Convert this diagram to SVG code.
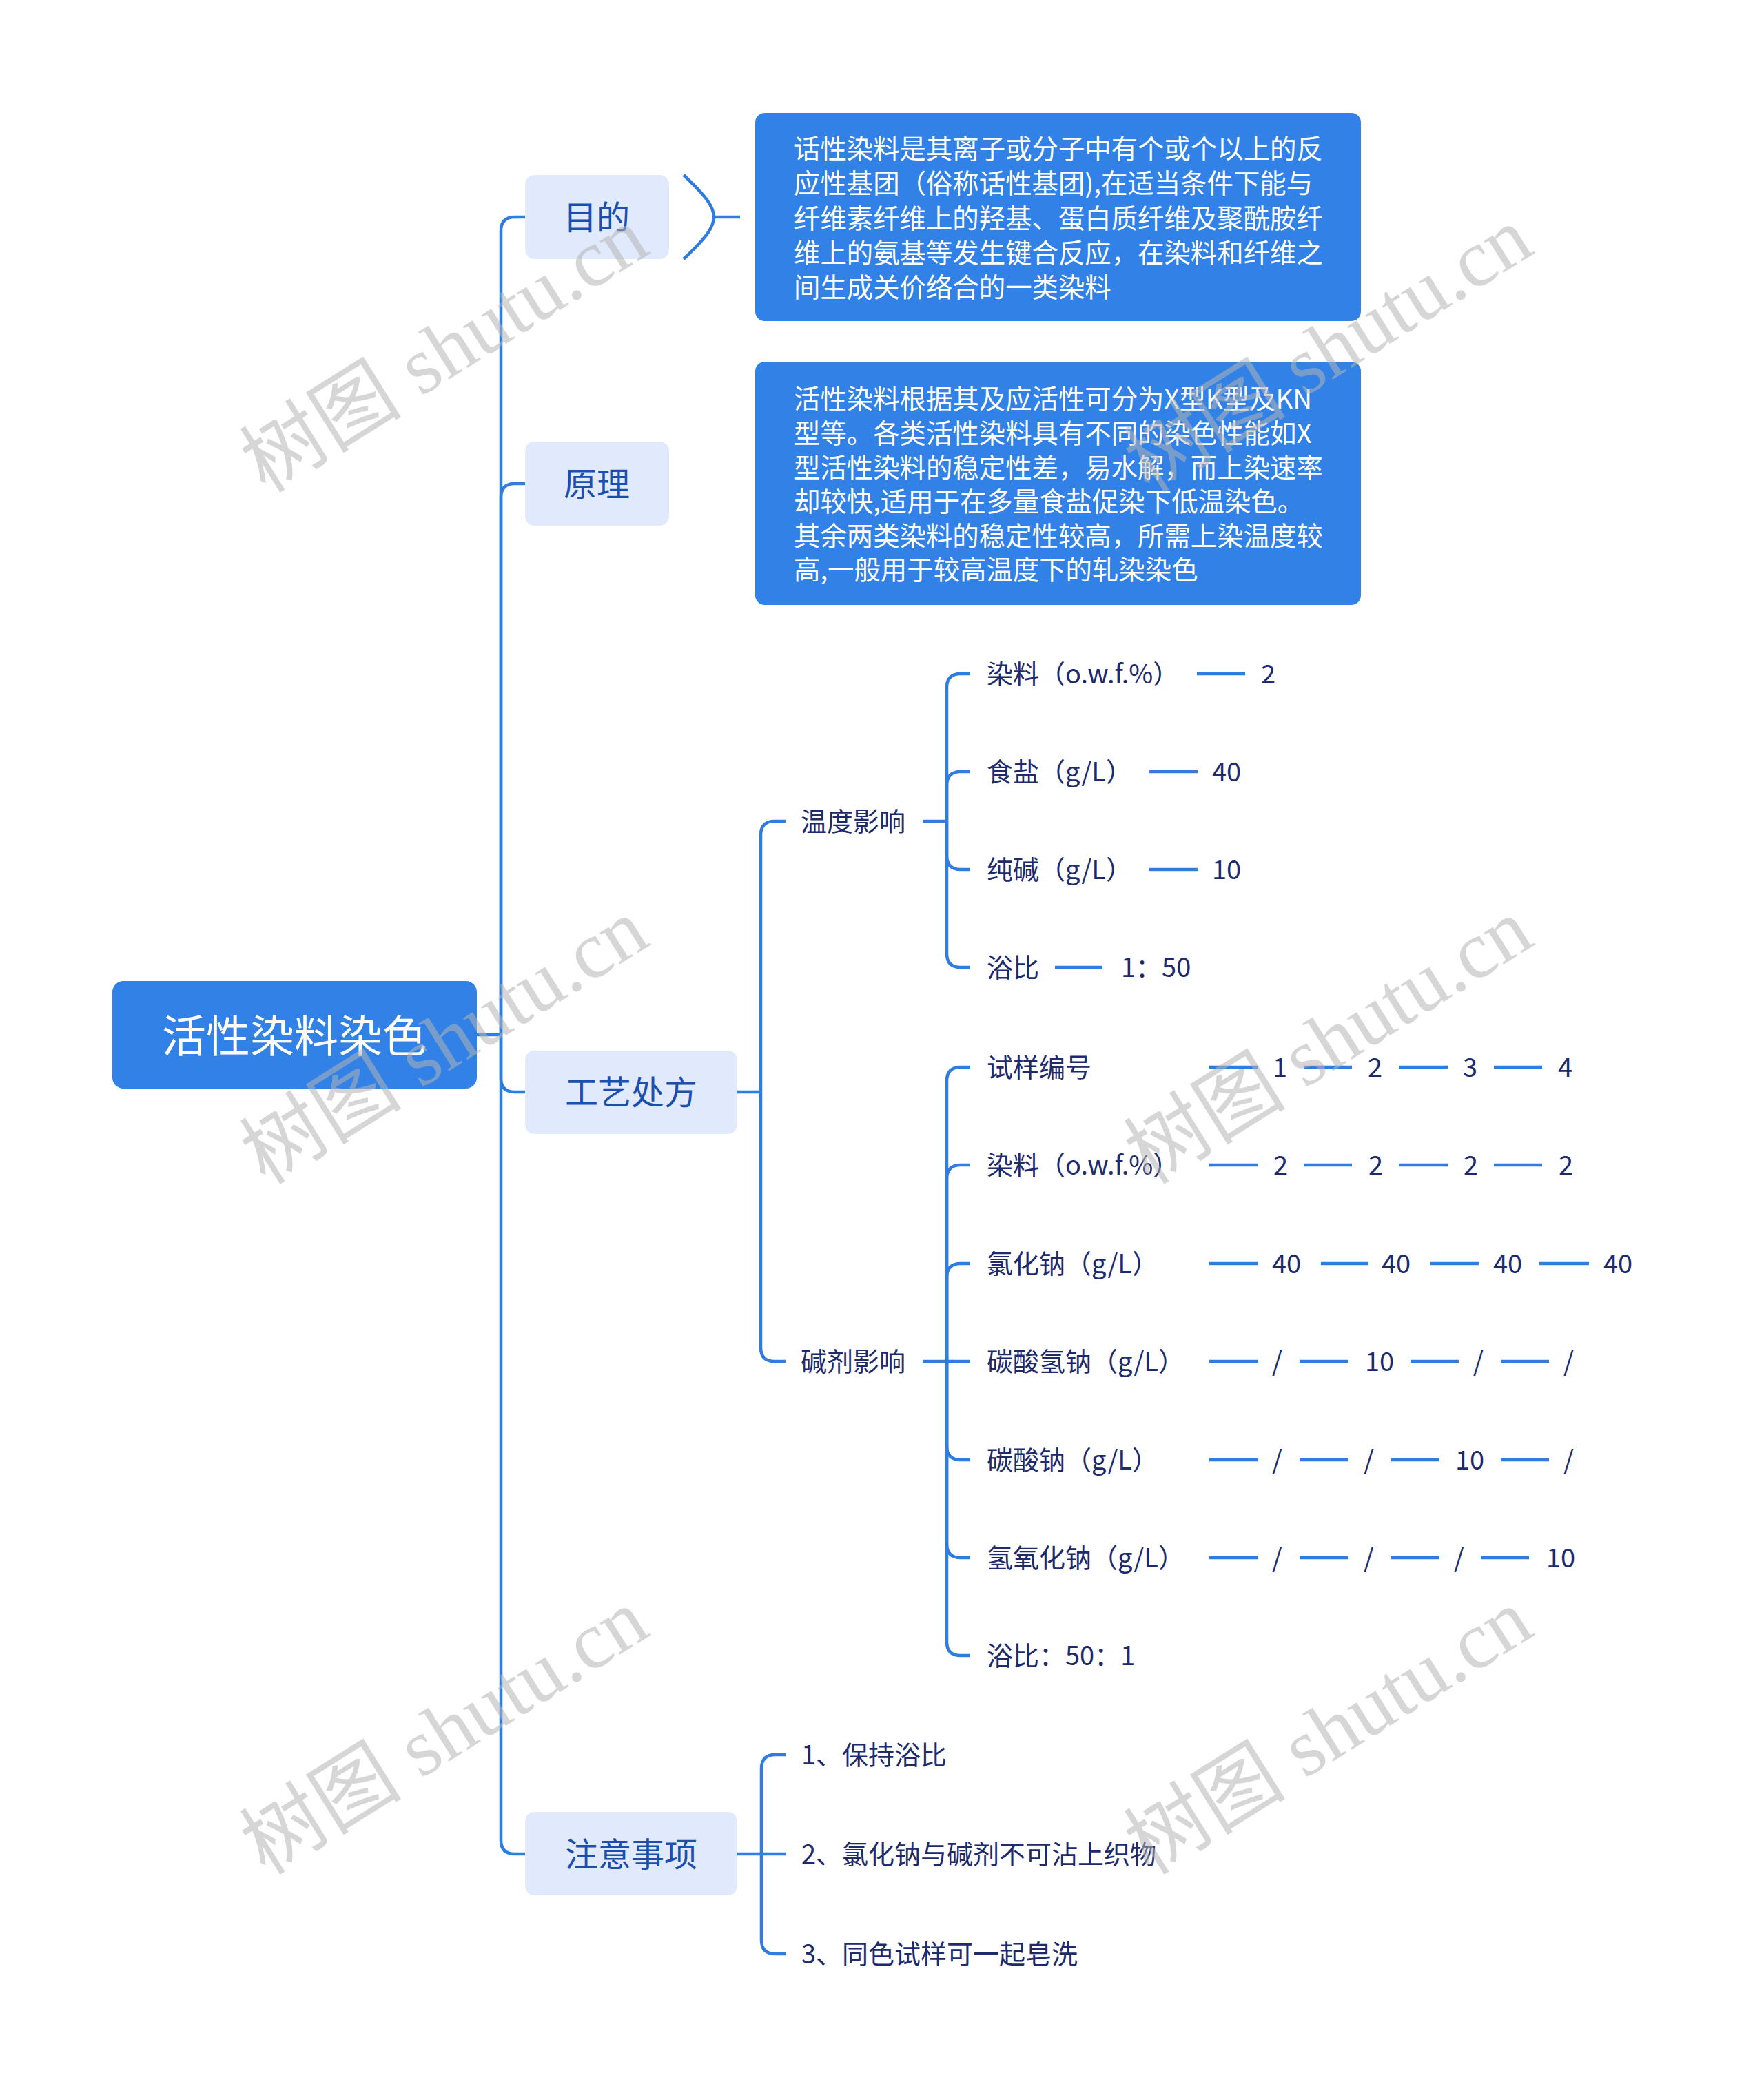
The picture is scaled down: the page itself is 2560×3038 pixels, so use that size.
<svg xmlns="http://www.w3.org/2000/svg" width="2560" height="3038" viewBox="0 0 2560 3038">
<style>
text{font-family:"Noto Sans CJK SC","Liberation Sans",sans-serif;dominant-baseline:central}
.bg{fill:#ffffff}
.rootbox{fill:#3181e6}
.l1box{fill:#e1eafc}
.sumbox{fill:#3181e6}
.t-root,.t-l1,.t-leaf,.t-sum{transform:translateY(-3px)}
.t-root{font-size:64px;fill:#ffffff;text-anchor:middle}
.t-l1{font-size:48px;fill:#1b4fae;text-anchor:middle}
.t-leaf{font-size:38px;fill:#1d2a6c}
.t-sum{font-size:38.4px;fill:#ffffff}
.ln{stroke:#2f7de1;stroke-width:4.5;fill:none;stroke-linecap:butt}
.wm{font-family:"Liberation Serif","Noto Sans CJK SC",serif;font-size:118px;fill:#b4b4b4;fill-opacity:0.55;text-anchor:middle}
</style>
<rect class="bg" x="0" y="0" width="2560" height="3038"/>

<g id="connectors">
  <path class="ln" d="M692 1502 H727"/>
  <path class="ln" d="M727 1502 V335 Q727 315 747 315 H762"/>
  <path class="ln" d="M727 1502 V722 Q727 702 747 702 H762"/>
  <path class="ln" d="M727 1502 V1565 Q727 1585 747 1585 H762"/>
  <path class="ln" d="M727 1502 V2671 Q727 2691 747 2691 H762"/>
  <path class="ln" d="M992 254 C1024 284 1036 300 1036 315 C1036 330 1024 346 992 376"/>
  <path class="ln" d="M1036 315 H1074"/>
  <path class="ln" d="M1070 1585 H1104"/>
  <path class="ln" d="M1104 1585 V1212 Q1104 1192 1124 1192 H1140"/>
  <path class="ln" d="M1104 1585 V1956 Q1104 1976 1124 1976 H1140"/>
  <path class="ln" d="M1339 1192 H1374"/>
  <path class="ln" d="M1374 1192 V998 Q1374 978 1394 978 H1408"/>
  <path class="ln" d="M1374 1192 V1140 Q1374 1120 1394 1120 H1408"/>
  <path class="ln" d="M1374 1192 V1242 Q1374 1262 1394 1262 H1408"/>
  <path class="ln" d="M1374 1192 V1384 Q1374 1404 1394 1404 H1408"/>
  <path class="ln" d="M1737 978 H1807"/>
  <path class="ln" d="M1668 1120 H1738"/>
  <path class="ln" d="M1668 1262 H1738"/>
  <path class="ln" d="M1531 1404 H1600"/>
  <path class="ln" d="M1339 1976 H1408"/>
  <path class="ln" d="M1374 1976 V1569 Q1374 1549 1394 1549 H1408"/>
  <path class="ln" d="M1374 1976 V1711 Q1374 1691 1394 1691 H1408"/>
  <path class="ln" d="M1374 1976 V1854 Q1374 1834 1394 1834 H1408"/>
  <path class="ln" d="M1374 1976 V2099 Q1374 2119 1394 2119 H1408"/>
  <path class="ln" d="M1374 1976 V2241 Q1374 2261 1394 2261 H1408"/>
  <path class="ln" d="M1374 1976 V2383 Q1374 2403 1394 2403 H1408"/>
  <path class="ln" d="M1755 1549 H1826 M1892 1549 H1962 M2030 1549 H2101 M2168 1549 H2238"/>
  <path class="ln" d="M1755 1691 H1826 M1892 1691 H1962 M2030 1691 H2101 M2168 1691 H2238"/>
  <path class="ln" d="M1755 1834 H1826 M1917 1834 H1986 M2076 1834 H2146 M2234 1834 H2306"/>
  <path class="ln" d="M1755 1976 H1826 M1886 1976 H1957 M2047 1976 H2117 M2178 1976 H2248"/>
  <path class="ln" d="M1755 2119 H1826 M1886 2119 H1957 M2019 2119 H2089 M2178 2119 H2248"/>
  <path class="ln" d="M1755 2261 H1826 M1886 2261 H1957 M2019 2261 H2089 M2149 2261 H2219"/>
  <path class="ln" d="M1070 2691 H1140"/>
  <path class="ln" d="M1105 2691 V2567 Q1105 2547 1125 2547 H1140"/>
  <path class="ln" d="M1105 2691 V2816 Q1105 2836 1125 2836 H1140"/>
</g>

<g id="node-root">
  <rect class="rootbox" x="163" y="1424" width="529" height="156" rx="16"/>
  <text class="t-root" x="427" y="1502">活性染料染色</text>
</g>

<g id="node-mudi">
  <rect class="l1box" x="762" y="254" width="209" height="122" rx="14"/>
  <text class="t-l1" x="866" y="315">目的</text>
</g>
<g id="node-mudi-summary">
  <rect class="sumbox" x="1096" y="164" width="879" height="302" rx="14"/>
  <text class="t-sum" x="1152" y="216">话性染料是其离子或分子中有个或个以上的反</text>
  <text class="t-sum" x="1152" y="266">应性基团（俗称话性基团),在适当条件下能与</text>
  <text class="t-sum" x="1152" y="317">纤维素纤维上的羟基、蛋白质纤维及聚酰胺纤</text>
  <text class="t-sum" x="1152" y="367">维上的氨基等发生键合反应，在染料和纤维之</text>
  <text class="t-sum" x="1152" y="417">间生成关价络合的一类染料</text>
</g>

<g id="node-yuanli">
  <rect class="l1box" x="762" y="641" width="209" height="122" rx="14"/>
  <text class="t-l1" x="866" y="702">原理</text>
</g>
<g id="node-yuanli-summary">
  <rect class="sumbox" x="1096" y="525" width="879" height="353" rx="14"/>
  <text class="t-sum" x="1152" y="579">活性染料根据其及应活性可分为X型K型及KN</text>
  <text class="t-sum" x="1152" y="629">型等。各类活性染料具有不同的染色性能如X</text>
  <text class="t-sum" x="1152" y="679">型活性染料的稳定性差，易水解，而上染速率</text>
  <text class="t-sum" x="1152" y="728">却较快,适用于在多量食盐促染下低温染色。</text>
  <text class="t-sum" x="1152" y="778">其余两类染料的稳定性较高，所需上染温度较</text>
  <text class="t-sum" x="1152" y="827">高,一般用于较高温度下的轧染染色</text>
</g>

<g id="node-gongyi">
  <rect class="l1box" x="762" y="1525" width="308" height="121" rx="14"/>
  <text class="t-l1" x="916" y="1585">工艺处方</text>
</g>

<g id="node-wendu">
  <text class="t-leaf" x="1162" y="1192">温度影响</text>
</g>
<g id="node-wendu-ranliao"><text class="t-leaf" x="1432" y="978">染料（o.w.f.%）</text><text class="t-leaf" x="1830" y="978">2</text></g>
<g id="node-wendu-shiyan"><text class="t-leaf" x="1432" y="1120">食盐（g/L）</text><text class="t-leaf" x="1759" y="1120">40</text></g>
<g id="node-wendu-chunjian"><text class="t-leaf" x="1432" y="1262">纯碱（g/L）</text><text class="t-leaf" x="1759" y="1262">10</text></g>
<g id="node-wendu-yubi"><text class="t-leaf" x="1432" y="1404">浴比</text><text class="t-leaf" x="1627" y="1404">1：50</text></g>

<g id="node-jianji">
  <text class="t-leaf" x="1162" y="1976">碱剂影响</text>
</g>
<g id="node-jianji-bianhao">
  <text class="t-leaf" x="1432" y="1549">试样编号</text>
  <text class="t-leaf" x="1847" y="1549">1</text>
  <text class="t-leaf" x="1985" y="1549">2</text>
  <text class="t-leaf" x="2123" y="1549">3</text>
  <text class="t-leaf" x="2261" y="1549">4</text>
</g>
<g id="node-jianji-ranliao">
  <text class="t-leaf" x="1432" y="1691">染料（o.w.f.%）</text>
  <text class="t-leaf" x="1848" y="1691">2</text>
  <text class="t-leaf" x="1986" y="1691">2</text>
  <text class="t-leaf" x="2124" y="1691">2</text>
  <text class="t-leaf" x="2262" y="1691">2</text>
</g>
<g id="node-jianji-lvhuana">
  <text class="t-leaf" x="1432" y="1834">氯化钠（g/L）</text>
  <text class="t-leaf" x="1846" y="1834">40</text>
  <text class="t-leaf" x="2005" y="1834">40</text>
  <text class="t-leaf" x="2167" y="1834">40</text>
  <text class="t-leaf" x="2327" y="1834">40</text>
</g>
<g id="node-jianji-tansuanqingna">
  <text class="t-leaf" x="1432" y="1976">碳酸氢钠（g/L）</text>
  <text class="t-leaf" x="1846" y="1976">/</text>
  <text class="t-leaf" x="1981" y="1976">10</text>
  <text class="t-leaf" x="2138" y="1976">/</text>
  <text class="t-leaf" x="2269" y="1976">/</text>
</g>
<g id="node-jianji-tansuanna">
  <text class="t-leaf" x="1432" y="2119">碳酸钠（g/L）</text>
  <text class="t-leaf" x="1846" y="2119">/</text>
  <text class="t-leaf" x="1979" y="2119">/</text>
  <text class="t-leaf" x="2112" y="2119">10</text>
  <text class="t-leaf" x="2269" y="2119">/</text>
</g>
<g id="node-jianji-qingyanghuana">
  <text class="t-leaf" x="1432" y="2261">氢氧化钠（g/L）</text>
  <text class="t-leaf" x="1846" y="2261">/</text>
  <text class="t-leaf" x="1979" y="2261">/</text>
  <text class="t-leaf" x="2110" y="2261">/</text>
  <text class="t-leaf" x="2244" y="2261">10</text>
</g>
<g id="node-jianji-yubi">
  <text class="t-leaf" x="1432" y="2403">浴比：50：1</text>
</g>

<g id="node-zhuyi">
  <rect class="l1box" x="762" y="2630" width="308" height="121" rx="14"/>
  <text class="t-l1" x="916" y="2691">注意事项</text>
</g>
<g id="node-zhuyi-1"><text class="t-leaf" x="1163" y="2547">1、保持浴比</text></g>
<g id="node-zhuyi-2"><text class="t-leaf" x="1163" y="2691">2、氯化钠与碱剂不可沾上织物</text></g>
<g id="node-zhuyi-3"><text class="t-leaf" x="1163" y="2836">3、同色试样可一起皂洗</text></g>

<g id="watermarks">
  <text class="wm" transform="translate(645 508) rotate(-32)">树图 shutu.cn</text>
  <text class="wm" transform="translate(1928 508) rotate(-32)">树图 shutu.cn</text>
  <text class="wm" transform="translate(645 1512) rotate(-32)">树图 shutu.cn</text>
  <text class="wm" transform="translate(1928 1512) rotate(-32)">树图 shutu.cn</text>
  <text class="wm" transform="translate(645 2514) rotate(-32)">树图 shutu.cn</text>
  <text class="wm" transform="translate(1928 2514) rotate(-32)">树图 shutu.cn</text>
</g>
</svg>
